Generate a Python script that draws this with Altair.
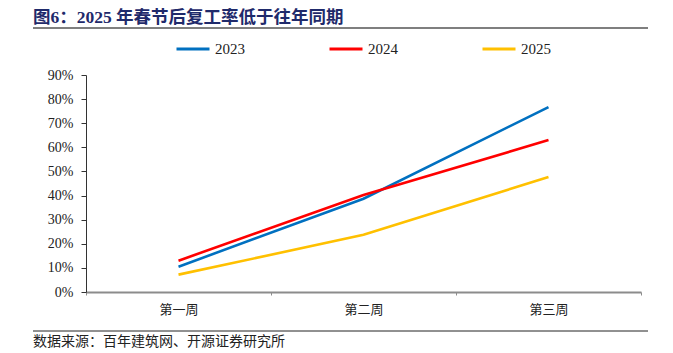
import altair as alt
import pandas as pd

weeks = ["第一周", "第二周", "第三周"]
years = ["2023", "2024", "2025"]
v2023 = [0.105, 0.387, 0.767]
v2024 = [0.130, 0.402, 0.630]
v2025 = [0.072, 0.237, 0.477]
colors = ["#0070C0", "#FF0000", "#FFC000"]
y_ticks = [0, 0.1, 0.2, 0.3, 0.4, 0.5, 0.6, 0.7, 0.8, 0.9]
title_text = "图6：2025 年春节后复工率低于往年同期"
source_text = "数据来源：百年建筑网、开源证券研究所"

rows = []
for yr, vals in zip(years, [v2023, v2024, v2025]):
    for w, v in zip(weeks, vals):
        rows.append({"week": w, "year": yr, "value": v})
df = pd.DataFrame(rows)

W, H = 555, 217
serif = "Liberation Serif, Noto Sans CJK SC"

lines = alt.Chart(df).mark_line(strokeWidth=2.6).encode(
    x=alt.X("week:N", sort=weeks, title=None,
            scale=alt.Scale(paddingInner=0, paddingOuter=0),
            axis=alt.Axis(labelAngle=0, tickBand="extent", domainColor="#8c8c8c",
                          domainWidth=2, tickColor="#8c8c8c", tickSize=3, tickWidth=1,
                          labelFont=serif, labelFontSize=13, labelColor="#222",
                          labelPadding=8, grid=False)),
    y=alt.Y("value:Q", title=None,
            scale=alt.Scale(domain=[0, 0.9], nice=False),
            axis=alt.Axis(values=y_ticks, format=".0%", grid=False, domainColor="#333",
                          tickColor="#333", tickSize=5, labelFont=serif, labelFontSize=14,
                          labelColor="#222", labelPadding=8)),
    color=alt.Color("year:N", sort=years,
                    scale=alt.Scale(domain=years, range=colors),
                    legend=alt.Legend(title=None, orient="none", legendX=89, legendY=-44,
                                      direction="horizontal", columns=3, columnPadding=78,
                                      symbolType="stroke", symbolSize=1089,
                                      symbolStrokeWidth=3, labelFont=serif,
                                      labelFontSize=15, labelColor="#222", labelOffset=4)),
)

title = alt.Chart(pd.DataFrame({"t": [title_text]})).mark_text(
    align="left", baseline="alphabetic", font=serif, fontSize=17.5, fontWeight="bold",
    color="#1F2A6B").encode(text="t:N", x=alt.value(-53), y=alt.value(-52))

title_rule = alt.Chart(pd.DataFrame({"a": [0]})).mark_rule(color="#555", strokeWidth=1.5).encode(
    x=alt.value(-53), x2=alt.value(562), y=alt.value(-47))

foot_rule = alt.Chart(pd.DataFrame({"a": [0]})).mark_rule(color="#222", strokeWidth=1).encode(
    x=alt.value(-53), x2=alt.value(562), y=alt.value(256))

source = alt.Chart(pd.DataFrame({"t": [source_text]})).mark_text(
    align="left", baseline="alphabetic", font=serif, fontSize=14, color="#222").encode(
    text="t:N", x=alt.value(-53), y=alt.value(271))

chart = alt.layer(lines, title, title_rule, foot_rule, source).properties(
    width=W, height=H,
    autosize=alt.AutoSizeParams(type="none"),
    padding={"left": 86, "top": 75, "right": 32, "bottom": 61},
).configure_view(stroke=None)

chart.save("out.html", embed_options={"renderer": "svg", "actions": False})
